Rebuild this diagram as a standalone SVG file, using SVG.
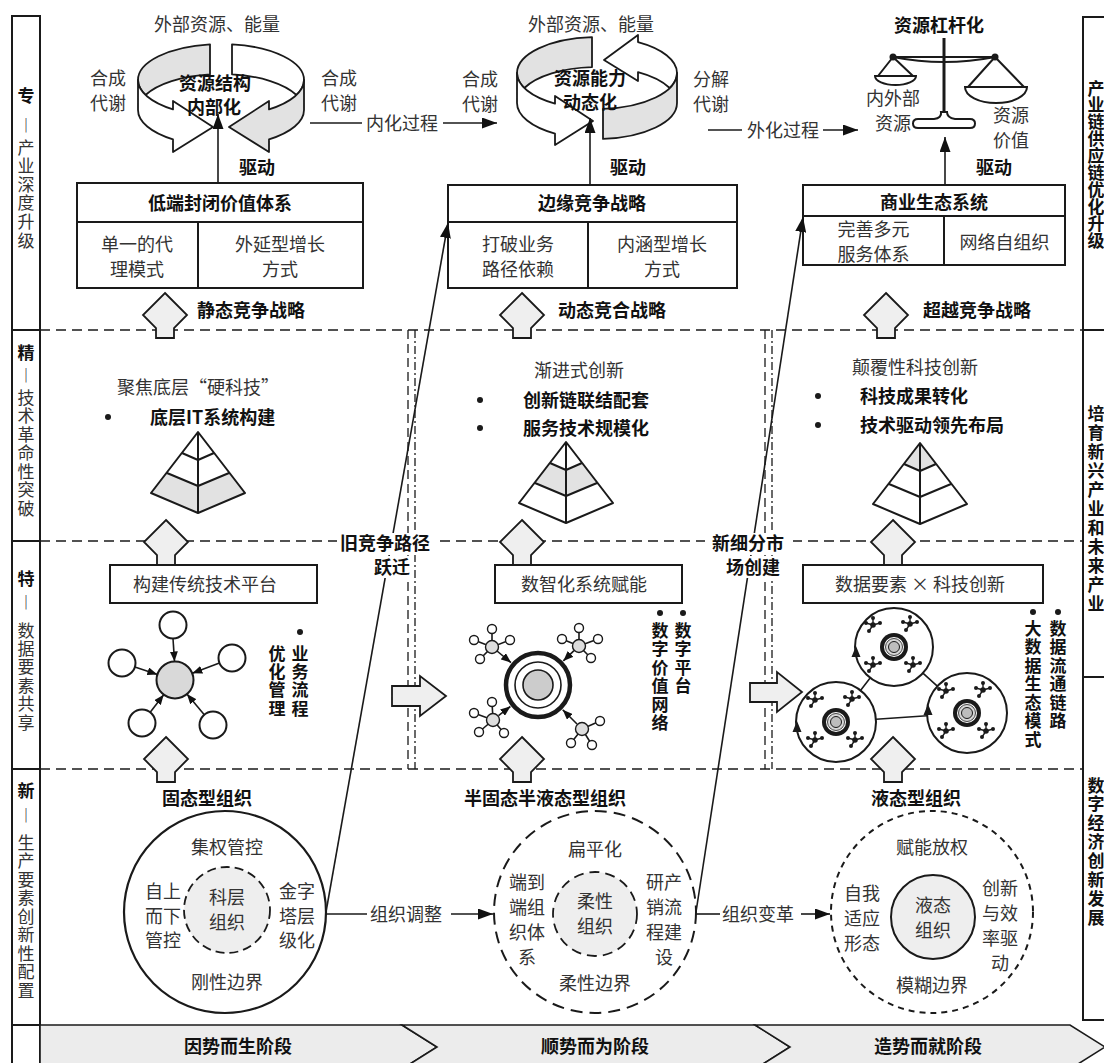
<svg xmlns="http://www.w3.org/2000/svg" width="1104" height="1063" viewBox="0 0 1104 1063">
<style>
text{font-family:"Noto Sans CJK SC","Noto Sans",sans-serif;font-size:18px;fill:#333;text-anchor:middle}
.b{font-weight:700;fill:#111}
.st{text-anchor:start}
.v{font-size:17px}
.ln{fill:none;stroke:#1a1a1a;stroke-width:1.6}
.dl{fill:none;stroke:#1a1a1a;stroke-width:1.6;stroke-dasharray:10 6}
.frame{fill:none;stroke:#1a1a1a;stroke-width:2}
.box{fill:#fff;stroke:#1a1a1a;stroke-width:2}
.sh{stroke:#1a1a1a;stroke-width:1.8;stroke-linejoin:round}
.w{fill:#fff}
.g{fill:#e2e2e2}
.up{fill:#efefef;stroke:#1a1a1a;stroke-width:1.8}
.chev{fill:#ececec;stroke:#1a1a1a;stroke-width:1.6}
.dot{fill:#1a1a1a}
.sat{fill:#fff;stroke:#1a1a1a;stroke-width:1.4}
.hub{fill:#ddd;stroke:#1a1a1a;stroke-width:1.4}
</style>
<defs>
  <marker id="ah" viewBox="0 0 15 11" refX="15" refY="5.5" markerWidth="15" markerHeight="11" markerUnits="userSpaceOnUse" orient="auto">
    <path d="M0,0 L15,5.5 L0,11 Z" fill="#111"/>
  </marker>
  <marker id="ahs" viewBox="0 0 10 8" refX="10" refY="4" markerWidth="10" markerHeight="8" markerUnits="userSpaceOnUse" orient="auto">
    <path d="M0,0 L10,4 L0,8 Z" fill="#111"/>
  </marker>
  <path id="uparrow" class="up" d="M0,0 L22,22 L9,35 L9,45 L-9,45 L-9,35 L-22,22 Z"/>
  <path id="pyr" fill="none" stroke="#1a1a1a" stroke-width="2" stroke-linejoin="round" d="M0,0 L-47,61 L0,81 L47,61 Z M0,0 L0,81 M-16,21 L0,28 L16,21 M-31,41 L0,54 L31,41"/>
  <g id="tm">
    <path d="M0,0 L0,-7 M0,0 L-7,-2 M0,0 L7,-2 M0,0 L-4,6" stroke="#1a1a1a" stroke-width="1.4"/>
    <circle r="2.8" fill="#1a1a1a"/>
    <circle cy="-7" r="2" fill="#1a1a1a"/>
    <circle cx="-7" cy="-2" r="2" fill="#1a1a1a"/>
    <circle cx="7" cy="-2" r="2" fill="#1a1a1a"/>
    <circle cx="-4" cy="6" r="2" fill="#1a1a1a"/>
  </g>
  <g id="tg">
    <circle r="14" fill="#1a1a1a"/>
    <circle r="10" fill="#fff"/>
    <circle r="8.5" fill="#d6d6d6" stroke="#1a1a1a" stroke-width="0.8"/>
    <circle r="5.5" fill="#bdbdbd" stroke="#1a1a1a" stroke-width="1"/>
  </g>
</defs>

<!-- left label column -->
<g id="side-left">
  <path class="frame" d="M12,1063 V16 H40 V1063 M12,330 H40 M12,541 H40 M12,769 H40 M12,1025 H40"/>
  <text class="v" x="26 26 26 26 26 26 26 26" y="101.5 131.5 153.5 172.1 190.7 209.3 227.9 246.5"><tspan class="b">专</tspan>︱产业深度升级</text>
  <text class="v" x="26 26 26 26 26 26 26 26 26" y="358.5 381.5 403.5 422 440.5 459 477.5 496 514.5"><tspan class="b">精</tspan>︱技术革命性突破</text>
  <text class="v" x="26 26 26 26 26 26 26 26" y="584.5 608.5 636.5 654.9 673.3 691.7 710.1 728.5"><tspan class="b">特</tspan>︱数据要素共享</text>
  <text class="v" x="26 26 26 26 26 26 26 26 26 26 26" y="796.5 821.5 848.5 867 885.5 904 922.5 941 959.5 978 996.5"><tspan class="b">新</tspan>︱生产要素创新性配置</text>
</g>

<!-- right label column -->
<g id="side-right">
  <path class="frame" d="M1106,17 H1083 V1020 H1106 M1083,330 H1106 M1083,677 H1106"/>
  <text class="v b" x="1096 1096 1096 1096 1096 1096 1096 1096 1096 1096" y="94.5 111.4 128.3 145.2 162.1 179 195.9 212.8 229.7 246.6">产业链供应链优化升级</text>
  <text class="v b" x="1096 1096 1096 1096 1096 1096 1096 1096 1096 1096 1096" y="419.5 438.5 457.5 476.5 495.5 514.5 533.5 552.5 571.5 590.5 609.5">培育新兴产业和未来产业</text>
  <text class="v b" x="1096 1096 1096 1096 1096 1096 1096 1096" y="791.5 810.4 829.3 848.2 867.1 886 904.9 923.8">数字经济创新发展</text>
</g>

<!-- stage band -->
<g id="stages">
  <path class="chev" d="M40,1025 H402 L437,1047 L402,1069 H40 Z"/>
  <path class="chev" d="M402,1025 H755 L790,1047 L755,1069 H402 L437,1047 Z"/>
  <path class="chev" d="M755,1025 H1070 L1105,1047 L1070,1069 H755 L790,1047 Z"/>
  <text class="b" x="238" y="1053">因势而生阶段</text>
  <text class="b" x="595" y="1053">顺势而为阶段</text>
  <text class="b" x="928" y="1053">造势而就阶段</text>
</g>

<!-- row separators and column dividers -->
<g id="grid">
  <path class="dl" d="M40,330 H1083 M40,541 H1083 M40,769 H1083"/>
  <path fill="none" stroke="#1a1a1a" stroke-width="1.3" stroke-dasharray="9 5" d="M408,330 V769 M765,330 V769"/>
  <path fill="none" stroke="#1a1a1a" stroke-width="1.3" stroke-dasharray="8 3 2 3" d="M415,330 V769 M772,330 V769"/>
</g>

<!-- resource cycle: internalisation -->
<g id="cycle-1">
  <path class="sh g" d="M210,44.3 A83,36 0 0 0 138,80 A83,36 0 0 0 145.55,95 A83,36 0 0 1 210,74.3 Z"/>
  <path class="sh w" d="M232,44.3 A83,36 0 0 1 304,80 A83,36 0 0 1 296.45,95 A83,36 0 0 0 232,74.3 Z"/>
  <path class="sh w" d="M138,80 A83,36 0 0 0 173,109.4 L173,101 L213,127 L173,152 L173,139.4 A83,36 0 0 1 138,110 Z"/>
  <path class="sh g" d="M304,80 A83,36 0 0 1 269,109.4 L269,101 L229,127 L269,152 L269,139.4 A83,36 0 0 0 304,110 Z"/>
  <text x="217" y="31">外部资源、能量</text>
  <text class="b" font-size="17" x="215" y="90">资源结构<tspan x="214" dy="23.5">内部化</tspan></text>
  <text x="108" y="85">合成<tspan x="108" dy="25">代谢</tspan></text>
  <text x="339" y="85">合成<tspan x="339" dy="25">代谢</tspan></text>
</g>

<!-- resource cycle: dynamic capability -->
<g id="cycle-2">
  <path class="sh g" d="M592,37.07 A80,36 0 0 0 517,73 A80,36 0 0 0 524.3,88 A80,36 0 0 1 592,67.07 Z"/>
  <path class="sh w" d="M669.7,88 A80,36 0 0 0 677,73 A80,36 0 0 0 638,42.1 L638,35 L604,60 L638,81 L638,72.1 A80,36 0 0 1 669.7,88 Z"/>
  <path class="sh w" d="M517,73 A80,36 0 0 0 555,103.64 L555,96 L593,121 L555,145 L555,133.64 A80,36 0 0 1 517,103 Z"/>
  <path class="sh g" d="M603,108.9 A80,36 0 0 0 677,73 L677,103 A80,36 0 0 1 603,138.9 Z"/>
  <text x="591" y="31">外部资源、能量</text>
  <text class="b" font-size="17" x="590" y="85">资源能力<tspan x="590" dy="23.5">动态化</tspan></text>
  <text x="480" y="86">合成<tspan x="480" dy="25">代谢</tspan></text>
  <text x="711" y="86">分解<tspan x="711" dy="25">代谢</tspan></text>
</g>

<!-- resource leverage balance -->
<g id="balance">
  <text class="b" x="939" y="32">资源杠杆化</text>
  <path fill="none" stroke="#1a1a1a" stroke-width="3" d="M944,38 V114"/>
  <path fill="none" stroke="#1a1a1a" stroke-width="2" d="M893,57 L995,57 M893,57 Q944,67 995,57 M893,57 L878,76 M893,57 L913,76 M995,57 L968,87 M995,57 L1024,87"/>
  <circle cx="893" cy="57" r="3.5" class="dot"/>
  <circle cx="995" cy="57" r="3.5" class="dot"/>
  <path fill="#fff" stroke="#1a1a1a" stroke-width="2" d="M875,76 H916 A20.5,9 0 0 1 875,76 Z"/>
  <path fill="#fff" stroke="#1a1a1a" stroke-width="2" d="M965,87 H1027 A31,16 0 0 1 965,87 Z"/>
  <path fill="#fff" stroke="#1a1a1a" stroke-width="2" d="M941,112 Q942,118 934,119 L918,119 Q913,119 913,123.5 Q913,128 918,128 L970,128 Q975,128 975,123.5 Q975,119 970,119 L955,119 Q947,118 947,112 Z"/>
  <text x="893" y="105">内外部<tspan x="893" dy="25">资源</tspan></text>
  <text x="1011" y="122">资源<tspan x="1011" dy="25">价值</tspan></text>
</g>

<!-- strategy boxes -->
<g id="box-closed">
  <rect class="box" x="77" y="183" width="286" height="105"/>
  <path class="frame" d="M77,222 H363 M198,222 V288"/>
  <text class="b" x="220" y="210">低端封闭价值体系</text>
  <text x="137" y="251">单一的代<tspan x="137" dy="24.5">理模式</tspan></text>
  <text x="280" y="251">外延型增长<tspan x="280" dy="24.5">方式</tspan></text>
</g>
<g id="box-edge">
  <rect class="box" x="448" y="185" width="289" height="103"/>
  <path class="frame" d="M448,222 H737 M588,222 V288"/>
  <text class="b" x="592" y="210">边缘竞争战略</text>
  <text x="518" y="251">打破业务<tspan x="518" dy="24.5">路径依赖</tspan></text>
  <text x="662" y="251">内涵型增长<tspan x="662" dy="24.5">方式</tspan></text>
</g>
<g id="box-eco">
  <rect class="box" x="803" y="185" width="262" height="80"/>
  <path class="frame" d="M803,216 H1065 M944,216 V265"/>
  <text class="b" x="934" y="209">商业生态系统</text>
  <text x="873.5" y="236">完善多元<tspan x="873.5" dy="25">服务体系</tspan></text>
  <text x="1004.5" y="249">网络自组织</text>
</g>

<!-- technology pyramids -->
<g id="pyramid-1" transform="translate(198,432)">
  <path class="w" d="M0,0 L-47,61 L0,81 L47,61 Z"/>
  <path class="g" d="M-31,41 L0,54 L31,41 L47,61 L0,81 L-47,61 Z"/>
  <use href="#pyr"/>
</g>
<g id="pyramid-2" transform="translate(566,442)">
  <path class="w" d="M0,0 L-47,61 L0,81 L47,61 Z"/>
  <path class="g" d="M-16,21 L0,28 L16,21 L31,41 L0,54 L-31,41 Z"/>
  <use href="#pyr"/>
</g>
<g id="pyramid-3" transform="translate(920,443)">
  <path class="w" d="M0,0 L-47,61 L0,81 L47,61 Z"/>
  <path class="g" d="M0,0 L16,21 L0,28 L-16,21 Z"/>
  <use href="#pyr"/>
</g>
<g id="tech-text">
  <text x="198" y="394">聚焦底层“硬科技”</text>
  <circle cx="108" cy="417" r="3" class="dot"/>
  <text class="b st" x="150" y="424">底层IT系统构建</text>
  <text x="579" y="377">渐进式创新</text>
  <circle cx="480" cy="400" r="3" class="dot"/>
  <circle cx="480" cy="428" r="3" class="dot"/>
  <text class="b st" x="523" y="407">创新链联结配套<tspan x="523" dy="28">服务技术规模化</tspan></text>
  <text x="915" y="374">颠覆性科技创新</text>
  <circle cx="818" cy="396" r="3" class="dot"/>
  <circle cx="818" cy="425" r="3" class="dot"/>
  <text class="b st" x="860" y="403">科技成果转化<tspan x="860" dy="29">技术驱动领先布局</tspan></text>
</g>

<!-- data layer -->
<g id="platform-1">
  <rect class="box" x="110" y="565" width="207" height="38"/>
  <text x="205" y="591">构建传统技术平台</text>
</g>
<g id="platform-2">
  <rect class="box" x="495" y="565" width="187" height="38"/>
  <text x="584" y="591">数智化系统赋能</text>
</g>
<g id="platform-3">
  <rect class="box" x="803" y="565" width="240" height="38"/>
  <text x="920" y="591">数据要素 × 科技创新</text>
</g>

<g id="hub-1">
  <circle cx="175" cy="680" r="18.5" fill="#d9d9d9" stroke="#1a1a1a" stroke-width="2"/>
  <circle cx="173" cy="625" r="13.5" fill="#fff" stroke="#1a1a1a" stroke-width="2"/>
  <circle cx="122" cy="663" r="13.5" fill="#fff" stroke="#1a1a1a" stroke-width="2"/>
  <circle cx="232" cy="658" r="13.5" fill="#fff" stroke="#1a1a1a" stroke-width="2"/>
  <circle cx="142" cy="723" r="13.5" fill="#fff" stroke="#1a1a1a" stroke-width="2"/>
  <circle cx="213" cy="725" r="13.5" fill="#fff" stroke="#1a1a1a" stroke-width="2"/>
  <circle cx="300" cy="632" r="3" class="dot"/>
  <text class="v b" x="300 300 300 300 277 277 277 277" y="659.5 677.8 696.1 714.5 659.5 677.8 696.1 714.5">业务流程优化管理</text>
</g>

<g id="hub-2">
  <circle cx="538" cy="685" r="32" fill="#fff" stroke="#1a1a1a" stroke-width="4.5"/>
  <circle cx="538" cy="685" r="23" fill="none" stroke="#1a1a1a" stroke-width="1.6"/>
  <circle cx="538" cy="685" r="15" fill="#ccc" stroke="#1a1a1a" stroke-width="1.6"/>
  <path class="ln" stroke-width="1.4" d="M492,647 L492,629 M492,647 L474,640 M492,647 L510,640 M492,647 L480,659 M579,646 L579,628 M579,646 L562,639 M579,646 L598,639 M579,646 L591,658 M493,720 L492,702 M493,720 L474,713 M493,720 L479,732 M493,720 L504,733 M582,729 L600,721 M582,729 L571,743 M582,729 L592,745"/>
  <circle class="sat" cx="492" cy="629" r="4.5"/><circle class="sat" cx="474" cy="640" r="4.5"/><circle class="sat" cx="510" cy="640" r="4.5"/><circle class="sat" cx="480" cy="659" r="4.5"/>
  <circle class="sat" cx="579" cy="628" r="4.5"/><circle class="sat" cx="562" cy="639" r="4.5"/><circle class="sat" cx="598" cy="639" r="4.5"/><circle class="sat" cx="591" cy="658" r="4.5"/>
  <circle class="sat" cx="492" cy="702" r="4.5"/><circle class="sat" cx="474" cy="713" r="4.5"/><circle class="sat" cx="479" cy="732" r="4.5"/><circle class="sat" cx="504" cy="733" r="4.5"/>
  <circle class="sat" cx="600" cy="721" r="4.5"/><circle class="sat" cx="571" cy="743" r="4.5"/><circle class="sat" cx="592" cy="745" r="4.5"/>
  <circle class="hub" cx="492" cy="647" r="6.5"/><circle class="hub" cx="579" cy="646" r="6.5"/><circle class="hub" cx="493" cy="720" r="6.5"/><circle class="hub" cx="582" cy="729" r="6.5"/>
  <circle cx="683" cy="613" r="3" class="dot"/>
  <circle cx="660" cy="613" r="3" class="dot"/>
  <text class="v b" x="683 683 683 683 660 660 660 660 660 660" y="636.5 655 673.5 692 636.5 655 673.5 692 710.5 729">数字平台数字价值网络</text>
</g>

<g id="hub-3">
  <path class="ln" stroke-width="1.6" d="M870.1,677.9 L860.5,690.4 M922.9,673.2 L937.3,686.2 M876,719.2 L927,715.8"/>
  <circle cx="894" cy="647" r="39" fill="#fff" stroke="#1a1a1a" stroke-width="2"/>
  <circle cx="836" cy="722" r="40" fill="#fff" stroke="#1a1a1a" stroke-width="2"/>
  <circle cx="967" cy="713" r="40" fill="#fff" stroke="#1a1a1a" stroke-width="2"/>
  <use href="#tg" x="894" y="647"/>
  <use href="#tg" x="836" y="722"/>
  <use href="#tg" x="967" y="713"/>
  <use href="#tm" x="873" y="625"/><use href="#tm" x="910" y="624"/><use href="#tm" x="873" y="665"/><use href="#tm" x="913" y="665"/>
  <use href="#tm" x="815" y="700"/><use href="#tm" x="852" y="699"/><use href="#tm" x="815" y="740"/><use href="#tm" x="855" y="740"/>
  <use href="#tm" x="946" y="691"/><use href="#tm" x="983" y="690"/><use href="#tm" x="946" y="731"/><use href="#tm" x="986" y="731"/>
  <path class="dot" d="M856,646 L851.5,657 L860.5,657 Z M797,721 L792.5,732 L801.5,732 Z M928,704 L923.5,715 L932.5,715 Z"/>
  <circle cx="1058" cy="612" r="3" class="dot"/>
  <circle cx="1033" cy="612" r="3" class="dot"/>
  <text class="v b" x="1058 1058 1058 1058 1058 1058 1033 1033 1033 1033 1033 1033 1033" y="634.5 653 671.5 690 708.5 727 634.5 653 671.5 690 708.5 727 745.5">数据流通链路大数据生态模式</text>
</g>

<!-- organisation forms -->
<g id="org-solid">
  <text class="b" x="207" y="805">固态型组织</text>
  <circle cx="225" cy="912" r="101" fill="#fff" stroke="#1a1a1a" stroke-width="2.2"/>
  <circle cx="227" cy="910" r="43" fill="#eee" stroke="#1a1a1a" stroke-width="1.8" stroke-dasharray="9 5"/>
  <text x="227" y="854">集权管控</text>
  <text x="227" y="904">科层<tspan x="227" dy="25">组织</tspan></text>
  <text x="163" y="898">自上<tspan x="163" dy="24.5">而下</tspan><tspan x="163" dy="24.5">管控</tspan></text>
  <text x="297" y="898">金字<tspan x="297" dy="24.5">塔层</tspan><tspan x="297" dy="24.5">级化</tspan></text>
  <text x="227" y="989">刚性边界</text>
</g>
<g id="org-semi">
  <text class="b" x="545" y="805">半固态半液态型组织</text>
  <circle cx="595" cy="912" r="101" fill="#fff" stroke="#1a1a1a" stroke-width="2" stroke-dasharray="12 7"/>
  <circle cx="595" cy="914" r="42" fill="#eee" stroke="#1a1a1a" stroke-width="1.8" stroke-dasharray="10 6"/>
  <text x="595" y="856">扁平化</text>
  <text x="595" y="908">柔性<tspan x="595" dy="24.5">组织</tspan></text>
  <text x="527" y="889">端到<tspan x="527" dy="25">端组</tspan><tspan x="527" dy="25">织体</tspan><tspan x="527" dy="25">系</tspan></text>
  <text x="664" y="889">研产<tspan x="664" dy="25">销流</tspan><tspan x="664" dy="25">程建</tspan><tspan x="664" dy="25">设</tspan></text>
  <text x="595" y="990">柔性边界</text>
</g>
<g id="org-liquid">
  <text class="b" x="916" y="805">液态型组织</text>
  <circle cx="932" cy="912" r="101" fill="#fff" stroke="#1a1a1a" stroke-width="2" stroke-dasharray="6 5"/>
  <circle cx="933" cy="917" r="42" fill="#eee" stroke="#1a1a1a" stroke-width="2"/>
  <text x="932" y="854">赋能放权</text>
  <text x="933" y="912">液态<tspan x="933" dy="24.5">组织</tspan></text>
  <text x="862" y="900">自我<tspan x="862" dy="25">适应</tspan><tspan x="862" dy="25">形态</tspan></text>
  <text x="1000" y="895">创新<tspan x="1000" dy="25">与效</tspan><tspan x="1000" dy="25">率驱</tspan><tspan x="1000" dy="24.5">动</tspan></text>
  <text x="932" y="992">模糊边界</text>
</g>

<!-- connectors -->
<g id="connectors">
  <path class="ln" marker-end="url(#ah)" d="M218,183 V114"/>
  <path class="ln" marker-end="url(#ah)" d="M590,185 V118"/>
  <path class="ln" marker-end="url(#ah)" d="M945,185 V137"/>
  <path class="ln" d="M310,123 H362"/>
  <path class="ln" marker-end="url(#ah)" d="M443,123 H497"/>
  <path class="ln" d="M708,130 H742"/>
  <path class="ln" marker-end="url(#ah)" d="M823,130 H858"/>
  <path class="ln" d="M326,914 H367"/>
  <path class="ln" marker-end="url(#ah)" d="M451,914 H493"/>
  <path class="ln" d="M696,914 H720"/>
  <path class="ln" marker-end="url(#ah)" d="M801,914 H830"/>
  <path class="ln" marker-end="url(#ah)" d="M326,912 L448,223"/>
  <path class="ln" marker-end="url(#ah)" d="M696,912 L803,217"/>
  <path class="ln" stroke-width="1.5" marker-end="url(#ahs)" d="M173,638.5 L174.5,661.5"/>
  <path class="ln" stroke-width="1.5" marker-end="url(#ahs)" d="M134.9,667.1 L157.4,674.4"/>
  <path class="ln" stroke-width="1.5" marker-end="url(#ahs)" d="M219.4,662.9 L192.3,673.3"/>
  <path class="ln" stroke-width="1.5" marker-end="url(#ahs)" d="M150.2,712.3 L163.7,694.7"/>
  <path class="ln" stroke-width="1.5" marker-end="url(#ahs)" d="M204.3,714.7 L186.9,694.1"/>
  <path class="ln" stroke-width="1.4" marker-end="url(#ahs)" d="M497,651 L511,662.6"/>
  <path class="ln" stroke-width="1.4" marker-end="url(#ahs)" d="M574,650.6 L563.3,660.9"/>
  <path class="ln" stroke-width="1.4" marker-end="url(#ahs)" d="M498.5,715.7 L510.4,706.5"/>
  <path class="ln" stroke-width="1.4" marker-end="url(#ahs)" d="M577,724 L562.7,709.7"/>
</g>

<!-- connector labels -->
<g id="labels">
  <text x="402" y="130">内化过程</text>
  <text x="783" y="137">外化过程</text>
  <text x="406" y="921">组织调整</text>
  <text x="758" y="921">组织变革</text>
  <text class="b" x="257" y="174">驱动</text>
  <text class="b" x="628" y="174">驱动</text>
  <text class="b" x="994" y="174">驱动</text>
  <rect x="337" y="533" width="97" height="22" fill="#fff"/>
  <rect x="372" y="556" width="40" height="22" fill="#fff"/>
  <text class="b" font-size="17" x="385" y="550">旧竞争路径<tspan x="392" dy="23.5">跃迁</tspan></text>
  <rect x="705" y="533" width="88" height="22" fill="#fff"/>
  <rect x="724" y="556" width="58" height="22" fill="#fff"/>
  <text class="b" font-size="17" x="748" y="550">新细分市<tspan x="753" dy="23.5">场创建</tspan></text>
</g>

<!-- upward flow arrows and lateral arrows -->
<g id="flow-arrows">
  <use href="#uparrow" x="165" y="293"/>
  <use href="#uparrow" x="522" y="293"/>
  <use href="#uparrow" x="886" y="293"/>
  <use href="#uparrow" x="166" y="520"/>
  <use href="#uparrow" x="522" y="520"/>
  <use href="#uparrow" x="893" y="520"/>
  <use href="#uparrow" x="166" y="737"/>
  <use href="#uparrow" x="522" y="737"/>
  <use href="#uparrow" x="893" y="737"/>
  <path class="up" d="M392,686 H420 V676 L446,696 L420,716 V706 H392 Z"/>
  <path class="up" d="M750,683 H777 V672 L802,692 L777,712 V702 H750 Z"/>
  <text class="b" x="251" y="317">静态竞争战略</text>
  <text class="b" x="612" y="317">动态竞合战略</text>
  <text class="b" x="977" y="317">超越竞争战略</text>
</g>
</svg>
